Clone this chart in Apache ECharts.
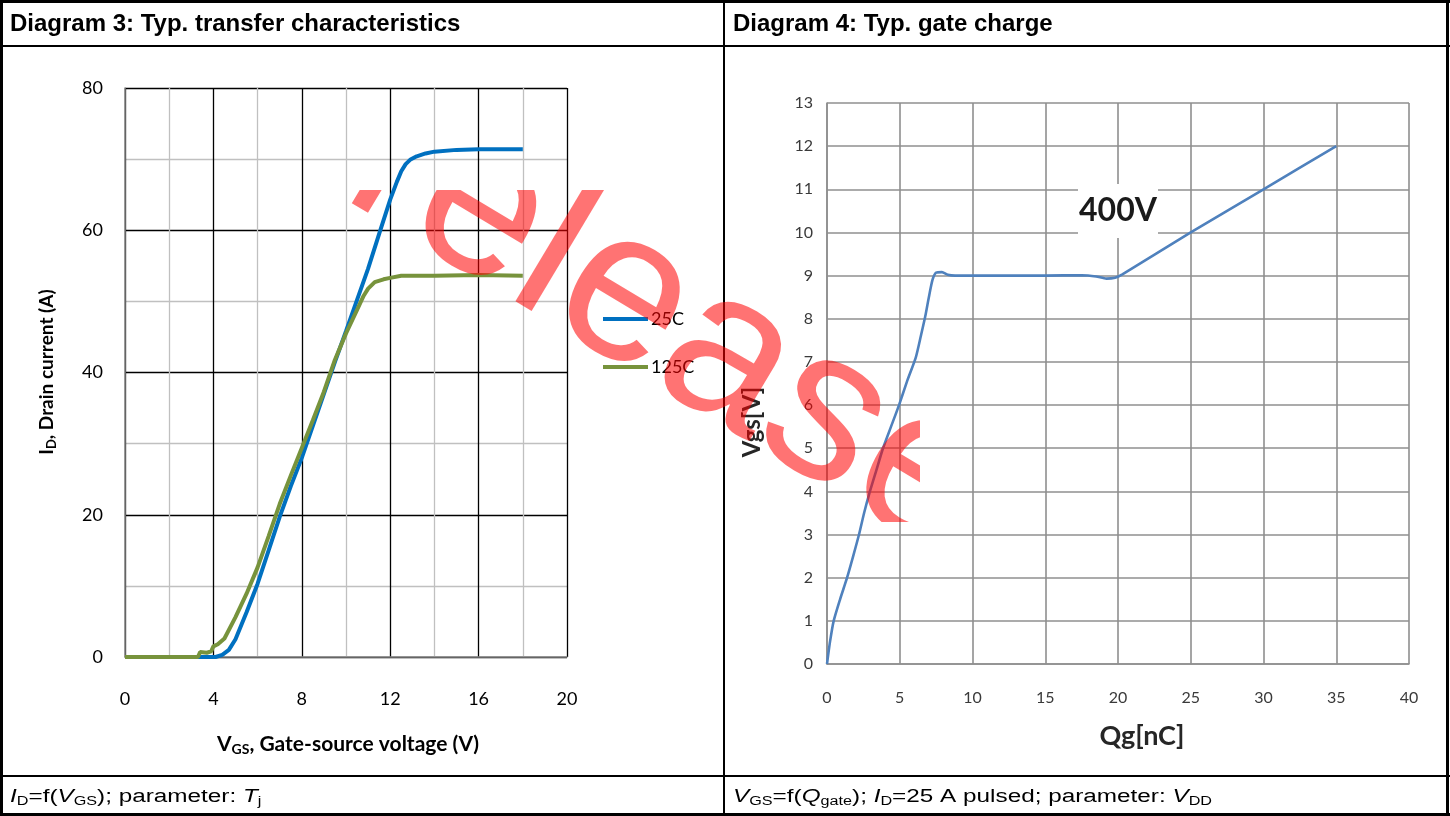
<!DOCTYPE html>
<html>
<head>
<meta charset="utf-8">
<script src="https://cdn.jsdelivr.net/npm/echarts@6/dist/echarts.min.js"></script>
<style>
html,body{margin:0;padding:0;background:#fff;}
#main{position:absolute;left:0;top:0;width:1450px;height:816px;}
#wm{position:absolute;left:330px;top:190px;width:590px;height:332px;pointer-events:none;}
</style>
</head>
<body>
<div id="main"></div>
<div id="wm"></div>
<script>
// ---------- Data ----------
const seriesNames = ['25C', '125C'];
// Diagram 3: transfer characteristics, 25 C
const vgs25 = [0, 3.0, 4.1, 4.4, 4.7, 5.0, 5.5, 6.0, 6.5, 7.0, 7.5, 8.0, 8.5, 9.0, 9.5, 10.0, 10.5, 11.0, 11.5, 12.0, 12.3, 12.5, 12.7, 12.9, 13.2, 13.6, 14.0, 15.0, 16.0, 18.0];
const id25  = [0, 0,   0,   0.3, 1.0, 2.5, 6.3, 10.3, 15.0, 19.7, 24.0, 28.0, 32.5, 37.0, 41.5, 45.8, 50.2, 54.6, 59.5, 64.3, 66.8, 68.3, 69.3, 69.9, 70.4, 70.8, 71.05, 71.3, 71.4, 71.4];
// Diagram 3: transfer characteristics, 125 C
const vgs125 = [0, 3.3, 3.4, 3.7, 3.9, 4.0, 4.2, 4.5, 5.0, 5.5, 6.0, 6.5, 7.0, 7.5, 8.0, 8.5, 9.0, 9.5, 10.0, 10.5, 10.8, 11.0, 11.3, 11.7, 12.0, 12.5, 14.0, 16.0, 18.0];
const id125  = [0, 0,   0.7, 0.6, 0.8, 1.5, 1.8, 2.6, 5.6, 8.9, 12.6, 17.0, 21.5, 25.5, 29.4, 33.3, 37.3, 41.8, 45.5, 48.8, 50.8, 51.8, 52.7, 53.1, 53.3, 53.6, 53.6, 53.7, 53.6];
// Diagram 4: gate charge (400 V)
const qgate = [0, 0.2, 0.46, 0.9, 1.38, 1.8, 2.2, 2.55, 2.95, 3.4, 3.85, 4.4, 4.95, 5.5, 6.1, 6.45, 6.75, 7.0, 7.25, 7.5, 7.9, 8.3, 8.8, 12, 15, 17.5, 18.5, 19.2, 19.8, 20.3, 25, 30, 35];
const vgate = [0, 0.5, 1.0, 1.5, 2.0, 2.5, 3.0, 3.5, 4.0, 4.5, 5.0, 5.5, 6.0, 6.55, 7.1, 7.6, 8.05, 8.5, 8.9, 9.07, 9.08, 9.02, 9.0, 9.0, 9.0, 9.01, 8.98, 8.93, 8.95, 9.03, 10, 11, 12];
const gateLabel = '400V';
const gateLabelAt = [20, 10.5];
// axis ranges / ticks
const x3Ticks = {min: 0, max: 20, interval: 4};
const y3Ticks = {min: 0, max: 80, interval: 20};
const x4Ticks = {min: 0, max: 40, interval: 5};
const y4Ticks = {min: 0, max: 13, interval: 1};

const zip = (a, b) => a.map((v, i) => [v, b[i]]);

// ---------- Styles ----------
const lab = 'Lato, "Open Sans", sans-serif';
const arial = '"Liberation Sans", Arial, sans-serif';

const tableLines = [
  [0, 1.5, 1450, 1.5, 3],
  [0, 46, 1450, 46, 2],
  [0, 776, 1450, 776, 2],
  [0, 814.5, 1450, 814.5, 3],
  [1.5, 0, 1.5, 816, 3],
  [1447.5, 0, 1447.5, 816, 3],
  [724, 0, 724, 816, 2]
].map(l => ({type: 'line', silent: true, z: 10,
  shape: {x1: l[0], y1: l[1], x2: l[2], y2: l[3]},
  style: {stroke: '#000', lineWidth: l[4]}}));

const footRich = {
  n: {fontSize: 18, fontFamily: arial, lineHeight: 22, color: '#000'},
  i: {fontSize: 18, fontFamily: arial, fontStyle: 'italic', lineHeight: 22, color: '#000'},
  s: {fontSize: 12, fontFamily: arial, lineHeight: 13, verticalAlign: 'bottom', color: '#000'}
};

const graphics = tableLines.concat([
  {type: 'text', x: 10, y: 24, silent: true,
   style: {text: 'Diagram 3: Typ. transfer characteristics', font: 'bold 24px ' + arial, fill: '#000', verticalAlign: 'middle'}},
  {type: 'text', x: 733, y: 24, silent: true,
   style: {text: 'Diagram 4: Typ. gate charge', font: 'bold 24px ' + arial, fill: '#000', verticalAlign: 'middle'}},
  {type: 'text', x: 10, y: 797, scaleX: 1.35, silent: true,
   style: {text: '{i|I}{s|D}{n|=f(}{i|V}{s|GS}{n|); parameter: }{i|T}{s|j}', rich: footRich, verticalAlign: 'middle'}},
  {type: 'text', x: 733, y: 797, scaleX: 1.35, silent: true,
   style: {text: '{i|V}{s|GS}{n|=f(}{i|Q}{s|gate}{n|); }{i|I}{s|D}{n|=25 A pulsed; parameter: }{i|V}{s|DD}', rich: footRich, verticalAlign: 'middle'}},
  // Diagram 3 axis titles
  {type: 'text', x: 47, y: 372, rotation: Math.PI / 2, silent: true,
   style: {text: '{b|I}{s|D}{b|, Drain current (A)}', align: 'center', verticalAlign: 'middle',
     rich: {b: {fontSize: 19, fontWeight: 'bold', fontFamily: lab, lineHeight: 22, color: '#000'},
            s: {fontSize: 13, fontWeight: 'bold', fontFamily: lab, lineHeight: 13, verticalAlign: 'bottom', color: '#000'}}}},
  {type: 'text', x: 348, y: 744, silent: true,
   style: {text: '{b|V}{s|GS}{b|, Gate-source voltage (V)}', align: 'center', verticalAlign: 'middle',
     rich: {b: {fontSize: 21, fontWeight: 'bold', fontFamily: lab, lineHeight: 24, color: '#000'},
            s: {fontSize: 14, fontWeight: 'bold', fontFamily: lab, lineHeight: 14, verticalAlign: 'bottom', color: '#000'}}}},
  // Diagram 4 axis titles
  {type: 'text', x: 752, y: 422, rotation: Math.PI / 2, silent: true,
   style: {text: 'Vgs[V]', font: 'bold 24px ' + lab, fill: '#262626', align: 'center', verticalAlign: 'middle'}},
  {type: 'text', x: 1142, y: 736, silent: true,
   style: {text: 'Qg[nC]', font: 'bold 27px ' + lab, fill: '#262626', align: 'center', verticalAlign: 'middle'}}
]);

function axis3(t, gridIndex, labelMargin) {
  return {
    type: 'value', gridIndex: gridIndex, min: t.min, max: t.max, interval: t.interval,
    axisLine: {show: true, onZero: false, lineStyle: {color: '#868686', width: 1.5}},
    axisTick: {show: false},
    axisLabel: {margin: labelMargin, fontSize: 18, color: '#000', fontFamily: lab},
    splitLine: {show: true, lineStyle: {color: '#000', width: 1.3}},
    minorTick: {show: false, splitNumber: 2},
    minorSplitLine: {show: true, lineStyle: {color: '#c0c0c0', width: 1.3}}
  };
}
function axis4(t, gridIndex, labelMargin) {
  return {
    type: 'value', gridIndex: gridIndex, min: t.min, max: t.max, interval: t.interval,
    axisLine: {show: true, onZero: false, lineStyle: {color: '#8f8f8f', width: 1.6}},
    axisTick: {show: false},
    axisLabel: {margin: labelMargin, fontSize: 16, color: '#3a3a3a', fontFamily: lab},
    splitLine: {show: true, lineStyle: {color: '#8f8f8f', width: 1.6}}
  };
}

const option = {
  backgroundColor: '#fff',
  animation: false,
  grid: [
    {left: 125, top: 88, width: 442, height: 569},
    {left: 827, top: 103, width: 582, height: 561}
  ],
  xAxis: [axis3(x3Ticks, 0, 33), axis4(x4Ticks, 1, 26)],
  yAxis: [axis3(y3Ticks, 0, 22), axis4(y4Ticks, 1, 14)],
  legend: {
    data: seriesNames, orient: 'vertical', left: 603, top: 309, padding: 0,
    icon: 'rect', itemWidth: 45, itemHeight: 4, itemGap: 28,
    textStyle: {fontSize: 18, color: '#000', fontFamily: lab, lineHeight: 20, padding: [0, 0, 0, -2]}
  },
  graphic: graphics,
  series: [
    {name: seriesNames[0], type: 'line', xAxisIndex: 0, yAxisIndex: 0, data: zip(vgs25, id25),
     showSymbol: false, color: '#0070C0', lineStyle: {width: 4, color: '#0070C0'}, z: 3},
    {name: seriesNames[1], type: 'line', xAxisIndex: 0, yAxisIndex: 0, data: zip(vgs125, id125),
     showSymbol: false, color: '#77933C', lineStyle: {width: 4, color: '#77933C'}, z: 4},
    {name: 'Vgs', type: 'line', xAxisIndex: 1, yAxisIndex: 1, data: zip(qgate, vgate),
     showSymbol: false, smooth: 0.2, color: '#4F81BD', lineStyle: {width: 2.6, color: '#4F81BD'}, z: 3,
     markPoint: {
       silent: true,
       data: [{coord: gateLabelAt, symbol: 'rect', symbolSize: [80, 54], itemStyle: {color: '#fff'},
         label: {show: true, position: 'inside', formatter: gateLabel, fontSize: 32, fontWeight: 'bold',
                 color: '#1a1a1a', fontFamily: lab}}]
     }}
  ]
};
echarts.init(document.getElementById('main'), null, {renderer: 'canvas'}).setOption(option);

// Watermark overlay (clipped by its own box)
const wmText = 'release';
echarts.init(document.getElementById('wm')).setOption({
  animation: false,
  graphic: [{type: 'text', x: 342, y: 136, rotation: -0.54, silent: true,
    style: {text: wmText, fontSize: 215, fontFamily: arial, fill: 'rgba(255,0,0,0.55)', align: 'center', verticalAlign: 'middle'}}]
});
</script>
</body>
</html>
